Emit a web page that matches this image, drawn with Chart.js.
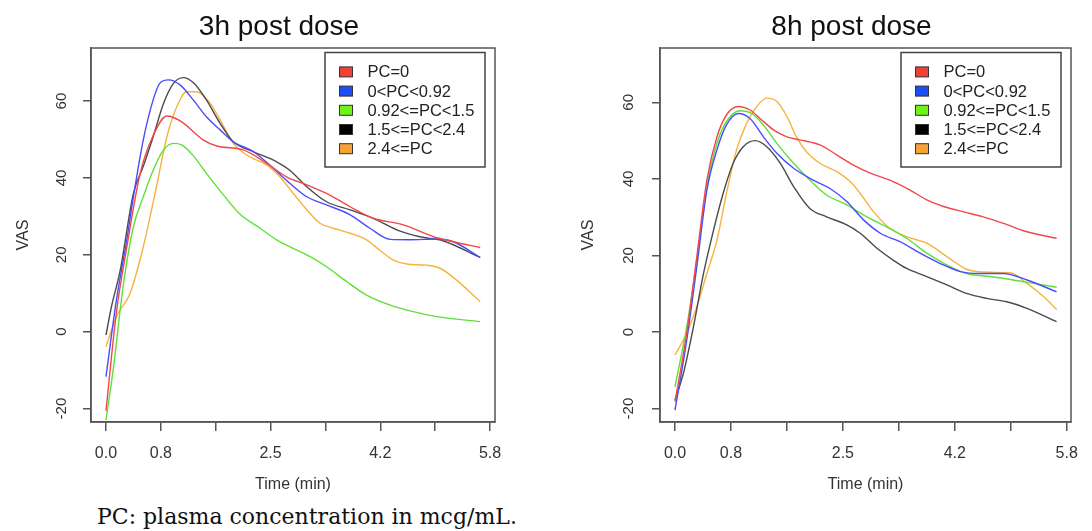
<!DOCTYPE html>
<html>
<head>
<meta charset="utf-8">
<script src="https://cdn.jsdelivr.net/npm/chart.js@4/dist/chart.umd.min.js"></script>
<style>
  html, body { margin: 0; padding: 0; background: #fff; width: 1092px; height: 531px; overflow: hidden; }
  #wrap { position: relative; width: 1092px; height: 531px; overflow: hidden; }
  #c1 { position: absolute; left: 0px; top: 0px; }
  #c2 { position: absolute; left: 560px; top: 0px; }
  #caption { position: absolute; left: 97px; top: 506px; font-family: "DejaVu Serif", serif; font-size: 22px; line-height: 22px; color: #111; white-space: nowrap; }
</style>
</head>
<body>
<div id="wrap">
  <canvas id="c1" width="558" height="500"></canvas>
  <canvas id="c2" width="583" height="500"></canvas>
  <div id="caption">PC: plasma concentration in mcg/mL.</div>
</div>
<script>
// ---- Data (x = position on the time axis, tick index units; y = VAS) ----
const seriesLabels = ['PC=0', '0<PC<0.92', '0.92<=PC<1.5', '1.5<=PC<2.4', '2.4<=PC'];
const xTickPositions = [0, 1, 2, 3, 4, 5, 6, 7];
const xTickLabels = ['0.0', '0.8', '', '2.5', '', '4.2', '', '5.8'];
const yTickValues = [-20, 0, 20, 40, 60];

// 3h post dose
const h3_red_t = [0, 0.19, 0.38, 0.62, 0.86, 1.11, 1.38, 1.77, 2.02, 2.5, 2.93, 3.29, 3.66, 4.02, 4.45, 4.87, 5.42, 5.97, 6.33, 6.82];
const h3_red_v = [-20.6, 5, 22, 41, 51, 56.1, 54.6, 49.9, 48.3, 47.3, 43.8, 40.3, 38.2, 36, 32.5, 29.5, 27.8, 24.7, 23.4, 21.9];
const h3_blue_t = [0, 0.19, 0.38, 0.5, 0.68, 0.86, 0.98, 1.14, 1.35, 1.59, 1.83, 2.08, 2.32, 2.69, 3.05, 3.35, 3.66, 4.02, 4.45, 4.81, 5.18, 5.54, 6.03, 6.33, 6.82];
const h3_blue_v = [-11.7, 8.2, 23.9, 35.1, 49.9, 60.3, 64.6, 65.5, 64.2, 60.3, 55.9, 52.5, 49.4, 46.8, 42.5, 38.6, 35.1, 33, 30.4, 26.9, 24, 23.9, 24.1, 23.4, 19.3];
const h3_green_t = [0, 0.13, 0.32, 0.5, 0.68, 0.86, 1.05, 1.23, 1.38, 1.59, 1.83, 2.14, 2.44, 2.81, 3.11, 3.41, 3.72, 4.02, 4.39, 4.75, 5.18, 5.6, 6.03, 6.82];
const h3_green_v = [-23, -10, 12.6, 27.3, 35.1, 42, 47.3, 49, 48.6, 45.8, 41.2, 35.6, 30.6, 26.9, 23.9, 21.7, 19.5, 16.9, 13, 9.5, 6.9, 5.2, 3.9, 2.6];
const h3_black_t = [0, 0.1, 0.26, 0.5, 0.68, 0.86, 1.05, 1.23, 1.41, 1.59, 1.83, 2.08, 2.32, 2.69, 3.11, 3.35, 3.66, 4.02, 4.45, 4.87, 5.3, 5.72, 6.15, 6.82];
const h3_black_v = [-0.9, 6.5, 16, 36, 43, 50.7, 59.4, 64.6, 66.1, 64.8, 60.3, 54.2, 49.4, 46.8, 44.2, 42, 37.7, 33.8, 31.7, 29.5, 26.5, 24.7, 23.6, 19.3];
const h3_orange_t = [0, 0.19, 0.44, 0.68, 0.92, 1.11, 1.29, 1.47, 1.65, 1.9, 2.08, 2.32, 2.62, 2.93, 3.17, 3.41, 3.66, 3.9, 4.14, 4.45, 4.75, 4.99, 5.24, 5.48, 5.84, 6.09, 6.39, 6.82];
const h3_orange_v = [-3.9, 3.9, 10, 22.1, 37.7, 50.7, 58.5, 62.4, 62.4, 59.4, 55.1, 49, 45.5, 43.4, 40.3, 36, 31.7, 28.2, 26.9, 25.6, 23.9, 21.2, 18.6, 17.6, 17.3, 16.5, 13.4, 7.8];

// 8h post dose
const h8_red_t = [0, 0.21, 0.39, 0.57, 0.75, 0.92, 1.13, 1.34, 1.52, 1.76, 2.0, 2.23, 2.59, 2.89, 3.19, 3.49, 3.84, 4.2, 4.5, 4.8, 5.16, 5.51, 5.87, 6.29, 6.82];
const h8_red_v = [-18.2, -0.3, 19.7, 39.7, 51, 56.7, 58.9, 58, 55.8, 52.8, 51, 50.2, 48.9, 46.3, 43.6, 41.5, 39.7, 37.1, 34.5, 32.8, 31.4, 30.1, 28.4, 26.2, 24.5];
const h8_blue_t = [0, 0.21, 0.39, 0.57, 0.75, 0.92, 1.13, 1.34, 1.58, 1.82, 2.12, 2.47, 2.77, 3.07, 3.37, 3.67, 4.02, 4.38, 4.74, 5.1, 5.45, 5.87, 6.29, 6.82];
const h8_blue_v = [-20.4, -2.1, 17.1, 37.1, 47.6, 54.1, 57.1, 55.8, 51, 46.7, 42.8, 39.7, 37.5, 34.1, 29.3, 25.8, 23.6, 20.6, 17.9, 15.8, 15.3, 15.3, 13.6, 10.5];
const h8_green_t = [0, 0.21, 0.39, 0.57, 0.75, 0.92, 1.16, 1.37, 1.58, 1.82, 2.12, 2.41, 2.71, 3.07, 3.43, 3.78, 4.14, 4.5, 4.86, 5.21, 5.63, 6.05, 6.41, 6.82];
const h8_green_v = [-14.3, 1.4, 18.8, 38, 49.3, 55, 57.8, 57.1, 54.1, 49.3, 44.1, 39.7, 35.8, 33.2, 30.1, 27.5, 24.5, 20.6, 17.5, 15.3, 14.5, 13.6, 12.7, 11.7];
const h8_black_t = [0, 0.15, 0.33, 0.51, 0.69, 0.86, 1.04, 1.22, 1.43, 1.64, 1.88, 2.12, 2.41, 2.71, 3.07, 3.31, 3.61, 3.9, 4.14, 4.5, 4.86, 5.21, 5.57, 5.93, 6.29, 6.82];
const h8_black_v = [-17.8, -10.8, 1.4, 15.3, 26.7, 36.2, 44.1, 48.4, 50, 48.4, 44.1, 38, 32.3, 30.1, 28, 25.8, 21.9, 18.8, 16.6, 14.5, 12.3, 10.1, 8.8, 7.9, 6.2, 2.7];
const h8_orange_t = [0, 0.21, 0.39, 0.57, 0.75, 0.92, 1.1, 1.28, 1.46, 1.64, 1.82, 2.0, 2.17, 2.35, 2.59, 2.89, 3.13, 3.31, 3.55, 3.84, 4.14, 4.5, 4.86, 5.21, 5.63, 5.99, 6.29, 6.59, 6.82];
const h8_orange_v = [-6.0, -0.3, 6.6, 15.3, 24, 36.2, 47.6, 54.5, 58.9, 61.1, 60.2, 56.3, 51, 47.1, 44.1, 41.9, 39.3, 36.2, 31.4, 27.1, 24.9, 23.2, 19.7, 16.4, 15.6, 15.5, 12.7, 9.2, 5.9];

// ---- Styles ----
const lineColors = ['#f04848', '#4a4cff', '#5ee03a', '#4a4a4a', '#f7b240'];
const swatchColors = ['#ef4135', '#1f4ef5', '#6ef21a', '#000000', '#f5a336'];

Chart.defaults.font.family = '"Liberation Sans", Arial, sans-serif';
Chart.defaults.color = '#333';

function pts(t, v) { return t.map((x, i) => ({ x: x, y: v[i] })); }

function makeDatasets(series) {
  return series.map((s, i) => ({
    label: seriesLabels[i],
    data: pts(s[0], s[1]),
    borderColor: lineColors[i],
    backgroundColor: swatchColors[i],
    borderWidth: 1.4,
    pointRadius: 0,
    cubicInterpolationMode: 'monotone',
    fill: false
  }));
}

const framePlugin = {
  id: 'rFrame',
  afterDatasetsDraw(chart) {
    const { ctx, chartArea: a } = chart;
    ctx.save();
    ctx.strokeStyle = '#555';
    ctx.lineWidth = 1.5;
    ctx.strokeRect(a.left, a.top, a.right - a.left, a.bottom - a.top);
    ctx.restore();
  }
};

const legendPlugin = {
  id: 'rLegend',
  afterDraw(chart) {
    const o = { insetRight: 10, insetTop: 4.5, width: 160, height: 114.5, swatchX: 14.5, textX: 42.5, firstRow: 19.4, rowGap: 19.2 };
    const { ctx, chartArea: a } = chart;
    const bx = a.right - o.insetRight - o.width, by = a.top + o.insetTop;
    ctx.save();
    ctx.fillStyle = '#fff';
    ctx.fillRect(bx, by, o.width, o.height);
    ctx.strokeStyle = '#444';
    ctx.lineWidth = 1.5;
    ctx.strokeRect(bx, by, o.width, o.height);
    ctx.font = '16.5px "Liberation Sans", Arial, sans-serif';
    ctx.textBaseline = 'middle';
    ctx.textAlign = 'left';
    chart.data.datasets.forEach((ds, i) => {
      const cy = by + o.firstRow + i * o.rowGap;
      ctx.fillStyle = ds.backgroundColor;
      ctx.fillRect(bx + o.swatchX, cy - 5, 13, 10);
      ctx.strokeStyle = '#333';
      ctx.lineWidth = 1;
      ctx.strokeRect(bx + o.swatchX, cy - 5, 13, 10);
      ctx.fillStyle = '#222';
      ctx.fillText(ds.label, bx + o.textX, cy + 1);
    });
    ctx.restore();
  }
};

function makeChart(id, title, series, cfg) {
  return new Chart(document.getElementById(id), {
    type: 'line',
    data: { datasets: makeDatasets(series) },
    plugins: [framePlugin, legendPlugin],
    options: {
      responsive: false,
      animation: false,
      devicePixelRatio: 1,
      layout: { padding: 0 },
      plugins: {
        legend: { display: false },
        tooltip: { enabled: false },
        title: {
          display: true,
          text: title,
          color: '#111',
          font: { size: 28, weight: 'normal' },
          padding: { top: 10.2, bottom: 4.2 }
        }
      },
      scales: {
        x: {
          type: 'linear',
          min: cfg.xMin, max: cfg.xMax,
          afterBuildTicks: s => { s.ticks = xTickPositions.map(v => ({ value: v })); },
          afterFit: s => { s.height = 78; },
          grid: { display: true, drawOnChartArea: false, drawTicks: true, tickLength: 9, color: '#555', lineWidth: 1.5 },
          border: { display: true, color: '#555', width: 1.5 },
          ticks: {
            autoSkip: false, maxRotation: 0, minRotation: 0, padding: 13,
            font: { size: 16 }, color: '#333',
            callback: v => xTickLabels[xTickPositions.indexOf(v)]
          },
          title: { display: true, text: 'Time (min)', font: { size: 16 }, color: '#333', padding: { top: 0, bottom: 5.9 } }
        },
        y: {
          type: 'linear',
          position: 'left',
          min: cfg.yMin, max: cfg.yMax,
          afterBuildTicks: s => { s.ticks = yTickValues.map(v => ({ value: v })); },
          afterFit: s => { s.width = cfg.yWidth; },
          grid: { display: true, drawOnChartArea: false, drawTicks: true, tickLength: 8, color: '#555', lineWidth: 1.5 },
          border: { display: true, color: '#555', width: 1.5 },
          ticks: {
            autoSkip: false, minRotation: 90, maxRotation: 90, crossAlign: 'center',
            padding: cfg.yTickPad, font: { size: 15 }, color: '#333',
            callback: v => String(v)
          },
          title: { display: true, text: 'VAS', font: { size: 16 }, color: '#333', padding: { top: cfg.yTitlePad, bottom: 0 } }
        },
        spacer: {
          type: 'linear',
          position: 'right',
          display: true,
          afterFit: s => { s.width = cfg.spacer; },
          grid: { display: false, drawTicks: false },
          border: { display: false },
          ticks: { display: false }
        }
      }
    }
  });
}

makeChart('c1', '3h post dose',
  [[h3_red_t, h3_red_v], [h3_blue_t, h3_blue_v], [h3_green_t, h3_green_v], [h3_black_t, h3_black_v], [h3_orange_t, h3_orange_v]],
  { xMin: -0.273, xMax: 7.09, yMin: -23.5, yMax: 73.8, yWidth: 91, yTickPad: 10.5, yTitlePad: 13.8, spacer: 63 });

makeChart('c2', '8h post dose',
  [[h8_red_t, h8_red_v], [h8_blue_t, h8_blue_v], [h8_green_t, h8_green_v], [h8_black_t, h8_black_v], [h8_orange_t, h8_orange_v]],
  { xMin: -0.268, xMax: 7.077, yMin: -23.5, yMax: 74.2, yWidth: 100, yTickPad: 12.2, yTitlePad: 19.4, spacer: 72 });
</script>
</body>
</html>
